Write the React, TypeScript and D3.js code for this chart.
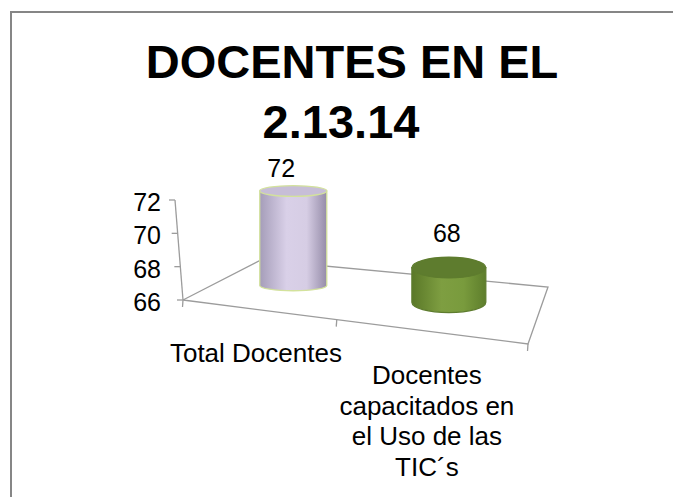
import * as d3 from 'd3';

const categories = ['Total Docentes', 'Docentes capacitados en el Uso de las TIC´s'];
const values = [72, 68];
const categoryLines = [['Total Docentes'], ['Docentes', 'capacitados en', 'el Uso de las', 'TIC´s']];
const yTicks = [66, 68, 70, 72];
const titleLines = ['DOCENTES EN EL', '2.13.14'];

const width = 673;
const height = 497;
const font = "'Liberation Sans', Arial, sans-serif";

// floor corners of the 3D plot area (front-left, front-right, back-right, back-left)
const F0: [number, number] = [183, 300];
const F1: [number, number] = [528, 344];
const B1: [number, number] = [548, 287];
const B0: [number, number] = [261, 260];

// square -> quad perspective mapping
const makeProjection = () => {
  const [x0, y0] = F0, [x1, y1] = F1, [x2, y2] = B1, [x3, y3] = B0;
  const dx1 = x1 - x2, dy1 = y1 - y2, dx2 = x3 - x2, dy2 = y3 - y2;
  const dx3 = x0 - x1 + x2 - x3, dy3 = y0 - y1 + y2 - y3;
  const den = dx1 * dy2 - dx2 * dy1;
  const g = (dx3 * dy2 - dx2 * dy3) / den;
  const h = (dx1 * dy3 - dx3 * dy1) / den;
  const a = x1 - x0 + g * x1, b = x3 - x0 + h * x3;
  const d = y1 - y0 + g * y1, e = y3 - y0 + h * y3;
  return (u: number, v: number) => {
    const w = g * u + h * v + 1;
    return { x: (a * u + b * v + x0) / w, y: (d * u + e * v + y0) / w, w };
  };
};
const project = makeProjection();

const u = d3.scalePoint<string>().domain(categories).range([0, 1]).padding(0.5);
const y = d3.scaleLinear().domain([66, 72]).range([0, 100]);
const lean = -0.08;

const palettes = [
  { id: 'lav', stops: ['#A59DB9', '#D9D0E8', '#D6CDE4', '#958CA8'], top: '#C7BED7', stroke: '#D3E29C' },
  { id: 'grn', stops: ['#5A7828', '#7E9E41', '#799B3D', '#5E7E2C'], top: '#5E7C2E', stroke: '#5E7C2E' },
];
const tilt = [0.16, 0.28];
const labelNudge: [number, number][] = [[-12, -14], [-2, -26]];

export default function App() {
  const floor = d3.line()([F0, F1, B1, B0, F0] as [number, number][]);
  const axisPt = (t: number) => ({ x: F0[0] + lean * y(t), y: F0[1] - y(t) });
  const catTicks = [0, 0.5, 1].map((t) => project(t, 0));

  return (
    <svg width={width} height={height} style={{ position: 'absolute', left: 0, top: 0 }} fontFamily={font}>
      <defs>
        {palettes.map((p) => (
          <linearGradient key={p.id} id={p.id} x1="0" x2="1" y1="0" y2="0">
            <stop offset="0" stopColor={p.stops[0]} />
            <stop offset="0.4" stopColor={p.stops[1]} />
            <stop offset="0.7" stopColor={p.stops[2]} />
            <stop offset="1" stopColor={p.stops[3]} />
          </linearGradient>
        ))}
      </defs>
      <rect x={11} y={12} width={width} height={height} fill="#fff" stroke="#868686" strokeWidth={2} />

      {titleLines.map((t, i) => (
        <text key={t} x={i === 0 ? 352 : 341} y={78 + i * 60} textAnchor="middle" fontSize={47} fontWeight="bold">
          {t}
        </text>
      ))}

      <path d={floor ?? ''} fill="none" stroke="#9C9C9C" strokeWidth={1.3} />
      {catTicks.map((p, i) => (
        <line key={i} x1={p.x} y1={p.y} x2={p.x - 0.5} y2={p.y + 7} stroke="#9C9C9C" strokeWidth={1.3} />
      ))}

      <line
        x1={axisPt(66).x} y1={axisPt(66).y} x2={axisPt(72).x} y2={axisPt(72).y}
        stroke="#9C9C9C" strokeWidth={1.3}
      />
      {yTicks.map((t) => {
        const p = axisPt(t);
        return (
          <g key={t}>
            <line x1={p.x} y1={p.y} x2={p.x - 6} y2={p.y} stroke="#9C9C9C" strokeWidth={1.3} />
            <text x={161} y={p.y + 11} textAnchor="end" fontSize={25}>{t}</text>
          </g>
        );
      })}

      {categories.map((c, i) => {
        const base = project(u(c)!, 0.5);
        const rx = 35.5 / base.w;
        const ry = rx * tilt[i];
        const hpx = y(values[i]) / base.w;
        const top = base.y - hpx;
        const p = palettes[i];
        const body = `M${base.x - rx},${top} L${base.x - rx},${base.y} A${rx},${ry} 0 0 0 ${base.x + rx},${base.y} L${base.x + rx},${top} Z`;
        return (
          <g key={c}>
            <path d={body} fill={`url(#${p.id})`} stroke={p.stroke} strokeWidth={1.3} />
            <ellipse cx={base.x} cy={top} rx={rx} ry={ry} fill={p.top} stroke={p.stroke} strokeWidth={1.3} />
            <text x={base.x + labelNudge[i][0]} y={top + labelNudge[i][1]} textAnchor="middle" fontSize={25}>
              {values[i]}
            </text>
          </g>
        );
      })}

      {categories.map((c, i) => {
        const f = project(u(c)!, 0);
        return (
          <text key={c} x={f.x} y={f.y + 53} textAnchor="middle" fontSize={26}>
            {categoryLines[i].map((l, j) => (
              <tspan key={j} x={f.x} dy={j === 0 ? 0 : 30.5}>{l}</tspan>
            ))}
          </text>
        );
      })}
    </svg>
  );
}
